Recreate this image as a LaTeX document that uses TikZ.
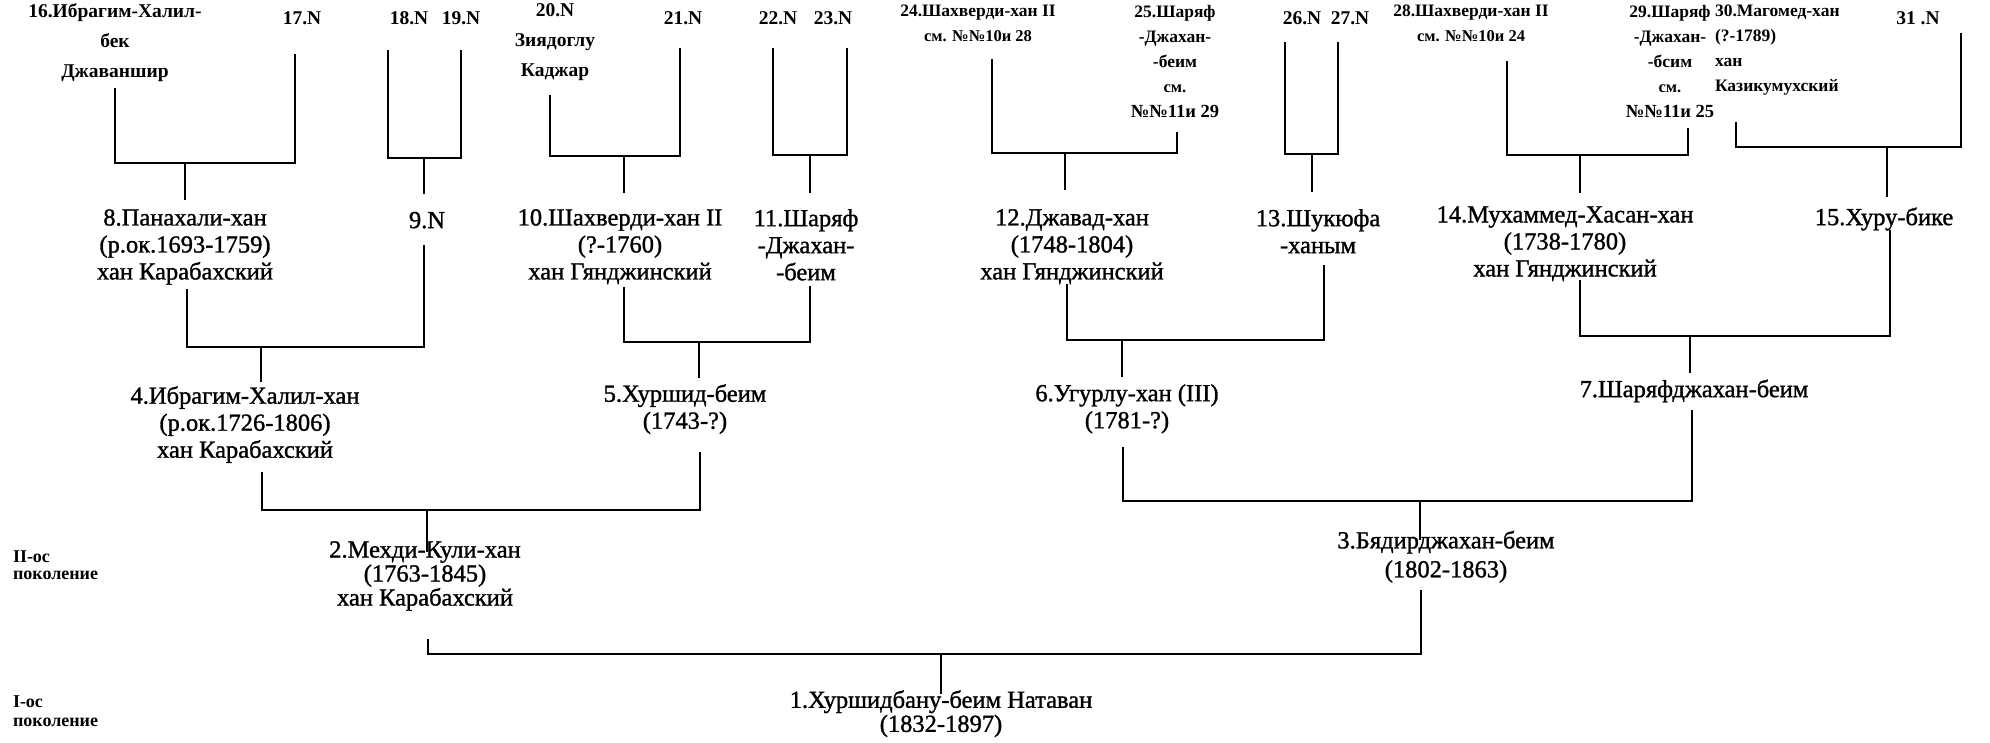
\documentclass[tikz,border=0pt]{standalone}
\usepackage{fontspec}
\setmainfont{Liberation Serif}
\newfontfamily\heavyserif{Liberation Serif}[FakeBold=1.2]
\usetikzlibrary{calc}
\newcommand\smln{\fontsize{16.5}{25}\selectfont}
\newcommand\mdln{\fontsize{18.5}{25}\selectfont}
\begin{document}
\begin{tikzpicture}[x=1pt,y=-1pt,
  every node/.style={inner sep=0pt, outer sep=0pt, align=center,
    execute at begin node=\strut, execute at end node=\strut},
  tp/.style={font=\fontsize{19.5}{30}\selectfont\bfseries, anchor=north},
  ts/.style={font=\fontsize{17.5}{25}\selectfont\bfseries, anchor=north},
  mn/.style={font=\heavyserif\fontsize{24.5}{27}\selectfont, anchor=north},
  mnb/.style={font=\heavyserif\fontsize{24.5}{24}\selectfont, anchor=north},
  mnc/.style={font=\heavyserif\fontsize{24.5}{29}\selectfont, anchor=north},
  lbl/.style={font=\fontsize{18}{#1}\selectfont\bfseries, anchor=north west, align=left},
  ln/.style={line width=2.2pt, line join=miter}
]
\fill[white] (0,0) rectangle (1990,742);
\useasboundingbox (0,0) rectangle (1990,742);

% ---------- top row ----------
\node[tp] (n16) at (115,3.4) {16.Ибрагим-Халил-\\бек\\Джаваншир};
\node[tp] (n17) at (302,3.4) {17.N};
\node[tp] (n18) at (409,3.4) {18.N};
\node[tp] (n19) at (461,3.4) {19.N};
\node[tp] (n20) at (555,3.4) {20.N\\Зиядоглу\\Каджар};
\node[tp] (n21) at (683,3.4) {21.N};
\node[tp] (n22) at (778,3.4) {22.N};
\node[tp] (n23) at (833,3.4) {23.N};
\node[ts] (n24) at (978,5.1) {24.Шахверди-хан II\\{\smln см. №№10и 28}};
\node[ts] (n25) at (1175,5.1) {25.Шаряф\\-Джахан-\\-беим\\{\smln см.}\\{\mdln №№11и 29}};
\node[tp] (n26) at (1302,3.4) {26.N};
\node[tp] (n27) at (1350,3.4) {27.N};
\node[ts] (n28) at (1471,5.1) {28.Шахверди-хан II\\{\smln см. №№10и 24}};
\node[ts] (n29) at (1670,5.1) {29.Шаряф\\-Джахан-\\-бсим\\{\smln см.}\\{\mdln №№11и 25}};
\node[ts, anchor=north west, align=left] (n30) at (1715,5.1) {30.Магомед-хан\\(?-1789)\\хан\\Казикумухский};
\node[tp] (n31) at (1918,3.4) {31 .N};

% ---------- third generation row ----------
\node[mn] (n8) at (185,209.2) {8.Панахали-хан\\(р.ок.1693-1759)\\хан Карабахский};
\node[mn] (n9) at (427,209.2) {9.N};
\node[mn] (n10) at (620,209.2) {10.Шахверди-хан II\\(?-1760)\\хан Гянджинский};
\node[mn] (n11) at (806,209.2) {11.Шаряф\\-Джахан-\\-беим};
\node[mn] (n12) at (1072,209.2) {12.Джавад-хан\\(1748-1804)\\хан Гянджинский};
\node[mn] (n13) at (1318,209.2) {13.Шукюфа\\-ханым};
\node[mn] (n14) at (1565,206.2) {14.Мухаммед-Хасан-хан\\(1738-1780)\\хан Гянджинский};
\node[mn] (n15) at (1884,206.2) {15.Хуру-бике};

% ---------- second row ----------
\node[mn] (n4) at (245,386.2) {4.Ибрагим-Халил-хан\\(р.ок.1726-1806)\\хан Карабахский};
\node[mn] (n5) at (685,384.2) {5.Хуршид-беим\\(1743-?)};
\node[mn] (n6) at (1127,384.2) {6.Угурлу-хан (III)\\(1781-?)};
\node[mn] (n7) at (1694,378.2) {7.Шаряфджахан-беим};

% ---------- parents ----------
\node[mnb] (n2) at (425,541.3) {2.Мехди-Кули-хан\\(1763-1845)\\хан Карабахский};
\node[mnc] (n3) at (1446,530.8) {3.Бядирджахан-беим\\(1802-1863)};
\node[mnb] (n1) at (941,690.3) {1.Хуршидбану-беим Натаван\\(1832-1897)};

% ---------- generation labels ----------
\node[lbl=17] (g2) at (13,551) {II-ос\\поколение};
\node[lbl=19] (g1) at (13,695.6) {I-ос\\поколение};

% ---------- junctions ----------
\coordinate (j8) at (185,163);
\coordinate (j9) at (424,158);
\coordinate (j10) at (624,156);
\coordinate (j11) at (810,155);
\coordinate (j12) at (1065,153);
\coordinate (j13) at (1312,154);
\coordinate (j14) at (1580,155);
\coordinate (j15) at (1887,147);
\coordinate (j4) at (261,347);
\coordinate (j5) at (699,342);
\coordinate (j6) at (1122,340);
\coordinate (j7) at (1690,336);
\coordinate (j2) at (427,510);
\coordinate (j3) at (1420,501);
\coordinate (j1) at (941,654);

% ---------- connectors ----------
\draw[ln] ($(n16.south)+(0,1.6)$) |- (j8) -| ($(n17.south)+(-7,20.6)$);
\draw[ln] (j8) -- ($(j8 |- n8.north)+(0,-9.2)$);

\draw[ln] ($(n18.south)+(-21,16.6)$) |- (j9) -| ($(n19.south)+(0,16.6)$);
\draw[ln] (j9) -- ($(j9 |- n9.north)+(0,-15.2)$);

\draw[ln] ($(n20.south)+(-5,9.6)$) |- (j10) -| ($(n21.south)+(-3,14.6)$);
\draw[ln] (j10) -- ($(j10 |- n10.north)+(0,-16.2)$);

\draw[ln] ($(n22.south)+(-5,14.6)$) |- (j11) -| ($(n23.south)+(14,14.6)$);
\draw[ln] (j11) -- ($(j11 |- n11.north)+(0,-16.2)$);

\draw[ln] ($(n24.south)+(14,9.9)$) |- (j12) -| ($(n25.south)+(2,6.9)$);
\draw[ln] (j12) -- ($(j12 |- n12.north)+(0,-19.2)$);

\draw[ln] ($(n26.south)+(-17,8.6)$) |- (j13) -| ($(n27.south)+(-12,8.6)$);
\draw[ln] (j13) -- ($(j13 |- n13.north)+(0,-17.2)$);

\draw[ln] ($(n28.south)+(36,11.9)$) |- (j14) -| ($(n29.south)+(18,2.9)$);
\draw[ln] (j14) -- ($(j14 |- n14.north)+(0,-13.2)$);

\draw[ln] ($(n30.south west)+(21,22.9)$) |- (j15) -| ($(n31.south)+(43,-0.4)$);
\draw[ln] (j15) -- ($(j15 |- n15.north)+(0,-9.2)$);

\draw[ln] ($(n8.south)+(2,1.8)$) |- (j4) -| ($(n9.south)+(-3,8.8)$);
\draw[ln] (j4) -- ($(j4 |- n4.north)+(0,-4.2)$);

\draw[ln] ($(n10.south)+(4,-0.2)$) |- (j5) -| ($(n11.south)+(4,-2.2)$);
\draw[ln] (j5) -- ($(j5 |- n5.north)+(0,-6.2)$);

\draw[ln] ($(n12.south)+(-5,-3.2)$) |- (j6) -| ($(n13.south)+(6,3.8)$);
\draw[ln] (j6) -- ($(j6 |- n6.north)+(0,-7.2)$);

\draw[ln] ($(n14.south)+(15,-4.2)$) |- (j7) -| ($(n15.south)+(6,-3.2)$);
\draw[ln] (j7) -- ($(j7 |- n7.north)+(0,-5.2)$);

\draw[ln] ($(n4.south)+(17,5.8)$) |- (j2) -| ($(n5.south)+(15,14.8)$);
\draw[ln] (j2) -- ($(j2 |- n2.north)+(0,10.7)$);

\draw[ln] ($(n6.south)+(-4,10.8)$) |- (j3) -| ($(n7.south)+(-2,4.8)$);
\draw[ln] (j3) -- ($(j3 |- n3.north)+(0,9.2)$);

\draw[ln] ($(n2.south)+(3,26.7)$) |- (j1) -| ($(n3.south)+(-25,4.2)$);
\draw[ln] (j1) -- ($(j1 |- n1.north)+(0,3.7)$);
\end{tikzpicture}
\end{document}
